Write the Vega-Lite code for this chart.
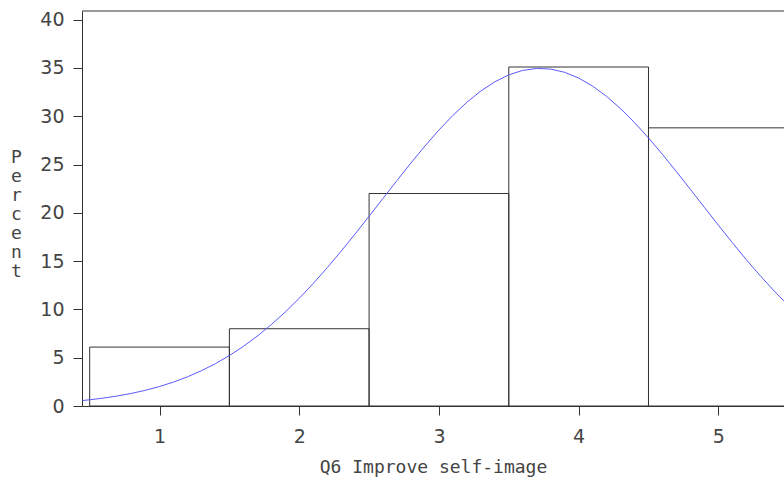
{
  "$schema": "https://vega.github.io/schema/vega-lite/v6.json",
  "autosize": "none",
  "width": 702,
  "height": 395,
  "padding": {"left": 82, "top": 11, "right": 0, "bottom": 79},
  "background": "white",
  "config": {
    "view": {"stroke": null},
    "axis": {
      "domainColor": "#333333",
      "tickColor": "#333333",
      "labelColor": "#444444",
      "titleColor": "#444444",
      "grid": false,
      "tickSize": 9,
      "labelFont": "Liberation Sans Narrow, DejaVu Sans, sans-serif",
      "labelFontSize": 19,
      "titleFont": "DejaVu Sans Mono, monospace",
      "titleFontSize": 18,
      "titleFontWeight": "normal"
    }
  },
  "datasets": {
    "bins": [
      {"lo": 0.5, "hi": 1.5, "pct": 6.1},
      {"lo": 1.5, "hi": 2.5, "pct": 8.0},
      {"lo": 2.5, "hi": 3.5, "pct": 22.0},
      {"lo": 3.5, "hi": 4.5, "pct": 35.1},
      {"lo": 4.5, "hi": 5.5, "pct": 28.8}
    ],
    "curve": [
      {"x": 0.45, "y": 0.568}, {"x": 0.5, "y": 0.644}, {"x": 0.6, "y": 0.822}, {"x": 0.7, "y": 1.041},
      {"x": 0.8, "y": 1.308}, {"x": 0.9, "y": 1.632}, {"x": 1.0, "y": 2.019}, {"x": 1.1, "y": 2.479},
      {"x": 1.2, "y": 3.022}, {"x": 1.3, "y": 3.655}, {"x": 1.4, "y": 4.385}, {"x": 1.5, "y": 5.223},
      {"x": 1.6, "y": 6.172}, {"x": 1.7, "y": 7.238}, {"x": 1.8, "y": 8.425}, {"x": 1.9, "y": 9.73},
      {"x": 2.0, "y": 11.15}, {"x": 2.1, "y": 12.682}, {"x": 2.2, "y": 14.312}, {"x": 2.3, "y": 16.03},
      {"x": 2.4, "y": 17.815}, {"x": 2.5, "y": 19.647}, {"x": 2.6, "y": 21.504}, {"x": 2.7, "y": 23.353},
      {"x": 2.8, "y": 25.169}, {"x": 2.9, "y": 26.919}, {"x": 3.0, "y": 28.571}, {"x": 3.1, "y": 30.09},
      {"x": 3.2, "y": 31.45}, {"x": 3.3, "y": 32.616}, {"x": 3.4, "y": 33.569}, {"x": 3.5, "y": 34.288},
      {"x": 3.6, "y": 34.751}, {"x": 3.7, "y": 34.952}, {"x": 3.8, "y": 34.884}, {"x": 3.9, "y": 34.551},
      {"x": 4.0, "y": 33.96}, {"x": 4.1, "y": 33.122}, {"x": 4.2, "y": 32.058}, {"x": 4.3, "y": 30.791},
      {"x": 4.4, "y": 29.348}, {"x": 4.5, "y": 27.759}, {"x": 4.6, "y": 26.055}, {"x": 4.7, "y": 24.268},
      {"x": 4.8, "y": 22.43}, {"x": 4.9, "y": 20.574}, {"x": 5.0, "y": 18.727}, {"x": 5.1, "y": 16.914},
      {"x": 5.2, "y": 15.16}, {"x": 5.3, "y": 13.484}, {"x": 5.4, "y": 11.904}, {"x": 5.5, "y": 10.426}
    ],
    "frame": [{"top": 40.9}]
  },
  "layer": [
    {
      "data": {"name": "bins"},
      "mark": {"type": "rect", "fill": null, "fillOpacity": 0, "stroke": "#333333", "strokeWidth": 1, "clip": true},
      "encoding": {
        "x": {
          "field": "lo", "type": "quantitative",
          "scale": {"domain": [0.445, 5.47], "nice": false, "zero": false},
          "axis": {"values": [1, 2, 3, 4, 5], "format": "d", "title": "Q6 Improve self-image", "labelPadding": 12, "titlePadding": 12}
        },
        "x2": {"field": "hi"},
        "y": {
          "field": "pct", "type": "quantitative",
          "scale": {"domain": [0, 40.9], "nice": false},
          "axis": {"values": [0, 5, 10, 15, 20, 25, 30, 35, 40], "format": "d", "title": ["P", "e", "r", "c", "e", "n", "t"], "titleAngle": 0, "titleLineHeight": 19, "titleX": -66, "titleY": 137, "titleAlign": "center", "titleBaseline": "top", "labelPadding": 9}
        },
        "y2": {"datum": 0}
      }
    },
    {
      "data": {"name": "curve"},
      "mark": {"type": "line", "color": "#5a5aff", "strokeWidth": 1, "clip": true},
      "encoding": {
        "x": {"field": "x", "type": "quantitative"},
        "y": {"field": "y", "type": "quantitative"}
      }
    },
    {
      "data": {"name": "frame"},
      "mark": {"type": "rule", "color": "#333333", "strokeWidth": 1},
      "encoding": {
        "y": {"field": "top", "type": "quantitative"}
      }
    }
  ]
}
